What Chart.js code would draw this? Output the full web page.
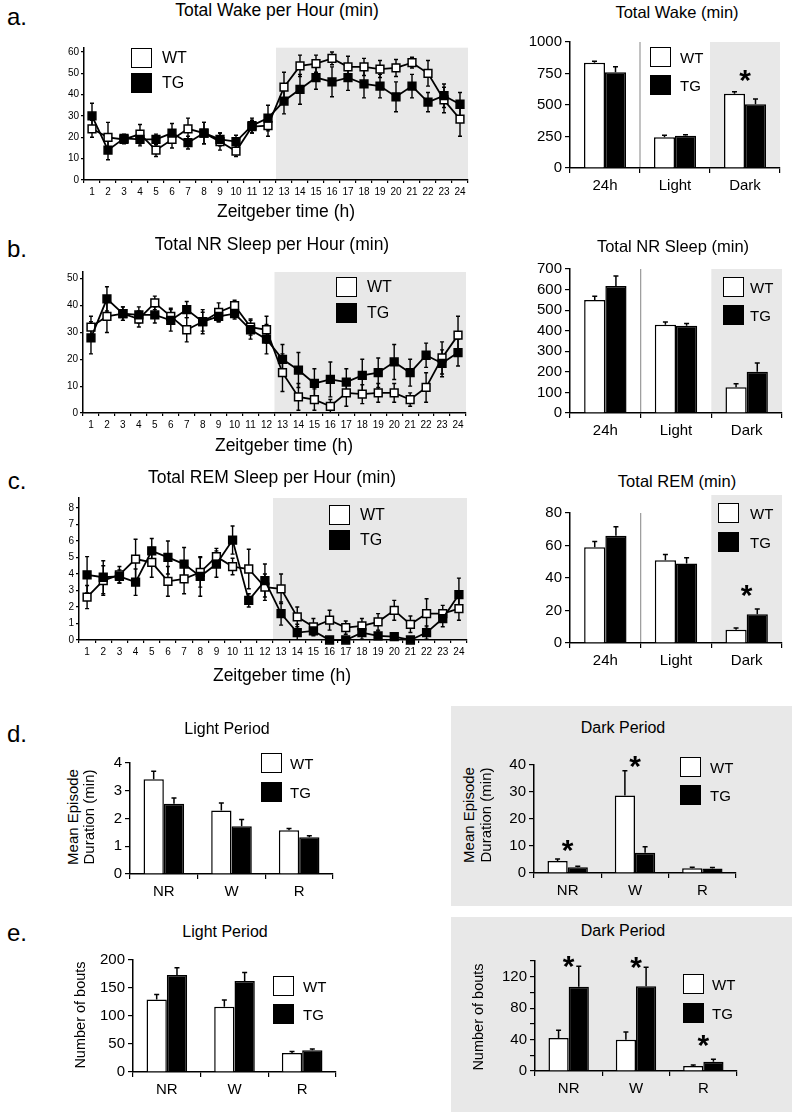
<!DOCTYPE html>
<html><head><meta charset="utf-8">
<script src="https://cdn.jsdelivr.net/npm/chart.js@4/dist/chart.umd.min.js"></script>
<style>
html,body{margin:0;padding:0;background:#fff;}
body{width:800px;height:1119px;position:relative;overflow:hidden;font-family:"Liberation Sans",Arial,Helvetica,sans-serif;color:#000;}
.t{position:absolute;white-space:nowrap;transform:translate(-50%,-50%);line-height:1;}
.lt{position:absolute;white-space:nowrap;transform:translateY(-50%);line-height:1;}
canvas{position:absolute;}
.box{position:absolute;border:1.5px solid #000;box-sizing:border-box;}
.bg{position:absolute;background:#e8e8e8;}
</style></head><body>
<script>
// ---------------- DATA ----------------
const hours = ['1','2','3','4','5','6','7','8','9','10','11','12','13','14','15','16','17','18','19','20','21','22','23','24'];
const groups = ['WT','TG'];

const wakeHourWT    = [24,20,19,21.5,14,19,24,22,18,13.5,25,25.5,43.5,53.5,54.5,57,53,53,52,52.5,55,50,37.5,28.5];
const wakeHourWTerr = [4,7,2,4.5,3,4,5,5,4,2.5,3,5,7,5,4,3,5,4,4,4,2.5,6,6,8];
const wakeHourTG    = [30,14,19.5,19,19,22,17.5,22,19,18,25.5,29,37,42.5,48,46,48,45,44,39,44,36.5,39.5,35.5];
const wakeHourTGerr = [6,4.5,2,3,2.5,4.5,3,5,3,3,3.5,6,6,7,5.5,7,6,6.5,5.5,7,5.5,4.5,5.5,5.5];

const nrHourWT    = [32,36,37,35,41,36,31,34,37.5,40,32,31,15,6,5,2.5,7.5,7,7.5,7.5,5,9.5,20.5,29];
const nrHourWTerr = [4,6,2.5,3,2.5,3,4.5,3.5,3.5,2,3,5,7,5,4,2.5,5,3.5,3.5,3.5,2.5,5.5,6,7];
const nrHourTG    = [28,42.5,37,36.5,36.5,34.5,38.5,34,36,37,31,27.5,20,16,11,12.5,11.5,14,15,19,15,21.5,18.5,22.5];
const nrHourTGerr = [6,4.5,2.5,3,3,4,3,4.5,2,2,3.5,5.5,5.5,6.5,5.5,6.5,5,6,5.5,6.5,5,4.5,5,5];

const remHourWT    = [2.6,3.6,3.95,4.9,4.7,3.55,3.7,4.1,5.05,4.45,4.3,3.2,3.1,1.4,0.8,1.2,0.75,0.85,1.1,1.8,0.95,1.6,1.6,1.9];
const remHourWTerr = [0.7,0.9,0.5,1.2,0.9,0.9,0.9,0.9,0.5,0.5,1.2,0.8,0.9,0.6,0.5,0.6,0.4,0.45,0.5,0.6,0.5,0.9,0.5,0.7];
const remHourTG    = [3.95,3.8,3.85,3.5,5.4,5.0,4.6,3.85,4.6,6.05,2.4,3.6,1.6,0.45,0.55,0,0,0.45,0.25,0.2,0,0.45,1.3,2.75];
const remHourTGerr = [1.1,1.0,0.4,0.8,0.75,1.0,1.0,1.2,0.8,0.85,0.4,1.0,0.7,0.5,0.3,0.2,0.2,0.4,0.3,0.2,0.2,0.4,0.5,1.0];

const periods = ['24h','Light','Dark'];
const wakeTotWT = [835,245,590],  wakeTotWTerr = [12,15,15];
const wakeTotTG = [760,255,505],  wakeTotTGerr = [43,8,43];
const wakeTotSig = [false,false,true];
const nrTotWT = [549,429,125],    nrTotWTerr = [19,13,17];
const nrTotTG = [617,424,201],    nrTotTGerr = [49,11,42];
const nrTotSig = [false,false,false];
const remTotWT = [59,51,8.2],     remTotWTerr = [3.5,3.5,1];
const remTotTG = [66,48.9,17.7],  remTotTGerr = [5.5,3.5,3.3];
const remTotSig = [false,false,true];

const states = ['NR','W','R'];
const durLightWT = [3.41,2.29,1.58], durLightWTerr = [0.29,0.27,0.06];
const durLightTG = [2.53,1.72,1.32], durLightTGerr = [0.21,0.24,0.06];
const durLightSig = [false,false,false];
const durDarkWT = [4.4,28.7,1.8],    durDarkWTerr = [0.8,9.2,0.3];
const durDarkTG = [2.1,7.5,1.7],     durDarkTGerr = [0.4,2.2,0.3];
const durDarkSig = [true,true,false];
const boutsLightWT = [129.6,116.4,34],  boutsLightWTerr = [9,12,2.4];
const boutsLightTG = [173,162.4,38.8],  boutsLightTGerr = [13,15.5,2.4];
const boutsLightSig = [false,false,false];
const boutsDarkWT = [42,39.9,6.4],      boutsDarkWTerr = [10,9.7,1.2];
const boutsDarkTG = [107.3,108,11.9],   boutsDarkTGerr = [26,24,3];
const boutsDarkSig = [true,true,true];

// ---------------- STYLE / HELPERS ----------------
const FONT = '"Liberation Sans", Arial, Helvetica, sans-serif';
const groupFill = ['#ffffff', '#000000'];
Chart.defaults.font.family = FONT;
Chart.defaults.color = '#000';
Chart.defaults.animation = false;

function errBars(chart, o) {
  const ctx = chart.ctx, ys = chart.scales.y;
  ctx.save();
  ctx.strokeStyle = '#000';
  ctx.lineWidth = o.errWidth || 1.5;
  const cap = o.cap || 2.5;
  chart.data.datasets.forEach((ds, di) => {
    if (!ds.errors) return;
    const meta = chart.getDatasetMeta(di);
    meta.data.forEach((el, i) => {
      const v = ds.data[i], e = ds.errors[i];
      const x = el.x;
      const yt = ys.getPixelForValue(v + e);
      const yb = o.twoSided ? ys.getPixelForValue(Math.max(ys.min, v - e)) : ys.getPixelForValue(v);
      ctx.beginPath();
      ctx.moveTo(x, yb); ctx.lineTo(x, yt);
      ctx.moveTo(x - cap, yt); ctx.lineTo(x + cap, yt);
      if (o.twoSided && v - e > ys.min) { ctx.moveTo(x - cap, yb); ctx.lineTo(x + cap, yb); }
      ctx.stroke();
    });
  });
  ctx.restore();
}
function stars(chart, o) {
  if (!o.sig) return;
  const ctx = chart.ctx, xs = chart.scales.x, ys = chart.scales.y;
  const fs = 30;
  ctx.save();
  ctx.fillStyle = '#000';
  ctx.font = 'bold ' + fs + 'px ' + FONT;
  ctx.textAlign = 'center';
  ctx.textBaseline = 'alphabetic';
  o.sig.forEach((s, i) => {
    if (!s) return;
    let top = Infinity;
    chart.data.datasets.forEach(ds => { top = Math.min(top, ys.getPixelForValue(ds.data[i] + ds.errors[i])); });
    const gap = Array.isArray(o.starGap) ? o.starGap[i] : (o.starGap || 14);
    const yc = top - gap;
    ctx.fillText('*', xs.getPixelForValue(i), yc + 0.58 * fs);
  });
  ctx.restore();
}
const panelPlugin = {
  id: 'panel',
  beforeDraw(chart, args, o) {
    const ctx = chart.ctx, ca = chart.chartArea, x = chart.scales.x;
    ctx.save();
    if (o.shadeFrom != null) {
      const xs = (x.getPixelForValue(o.shadeFrom - 1) + x.getPixelForValue(o.shadeFrom)) / 2;
      const ex = o.shadeExtra || 0;
      ctx.fillStyle = '#e8e8e8';
      ctx.fillRect(xs, ca.top - ex, ca.right - xs, ca.bottom - ca.top + ex);
    }
    if (o.divider != null) {
      const xd = (x.getPixelForValue(o.divider - 1) + x.getPixelForValue(o.divider)) / 2;
      ctx.strokeStyle = '#999';
      ctx.lineWidth = 1.2;
      ctx.beginPath(); ctx.moveTo(xd, ca.top); ctx.lineTo(xd, ca.bottom); ctx.stroke();
    }
    ctx.restore();
  },
  beforeDatasetsDraw(chart, args, o) { if (o.twoSided) errBars(chart, o); },
  afterDatasetsDraw(chart, args, o) { if (o.errors && !o.twoSided) errBars(chart, o); stars(chart, o); }
};
Chart.register(panelPlugin);

function makeChart(area, cfg) {
  const [x0, y0, x1, y1] = area;
  const left = Math.floor(x0) - 44, top = Math.floor(y0) - 18;
  const W = Math.ceil(x1) + 14 - left, H = Math.ceil(y1) + 36 - top;
  const yw = x0 - left, pt = y0 - top, pr = W - (x1 - left), xh = H - (y1 - top);
  const c = document.createElement('canvas');
  c.width = W; c.height = H;
  c.style.left = left + 'px'; c.style.top = top + 'px';
  c.style.width = W + 'px'; c.style.height = H + 'px';
  document.body.appendChild(c);
  const step = cfg.step;
  new Chart(c, {
    type: cfg.type,
    data: { labels: cfg.labels, datasets: cfg.datasets },
    options: {
      responsive: false, animation: false, devicePixelRatio: 1,
      layout: { padding: { left: 0, right: pr, top: pt, bottom: 0 } },
      plugins: { legend: { display: false }, tooltip: { enabled: false }, title: { display: false }, panel: cfg.panel },
      scales: {
        x: {
          type: 'category', offset: true,
          grid: { display: true, offset: true, drawOnChartArea: false, tickLength: cfg.xTick, color: '#000', lineWidth: 1.2 },
          border: { display: true, color: '#000', width: 1.5 },
          ticks: { color: '#000', font: { size: cfg.xFont, family: FONT }, padding: cfg.xPad, maxRotation: 0, autoSkip: false },
          afterFit(s) { s.height = xh; }
        },
        y: {
          type: 'linear', min: 0, max: cfg.max,
          grid: { display: true, drawOnChartArea: false, tickLength: cfg.yTick, color: '#000', lineWidth: 1.2 },
          border: { display: true, color: '#000', width: 1.5 },
          ticks: { color: '#000', stepSize: step, autoSkip: false, font: { size: cfg.yFont, family: FONT }, padding: cfg.yPad,
                   callback: cfg.yLabel || (v => String(v)) },
          afterBuildTicks(s) {
            const n = Math.floor(cfg.max / step + 1e-9);
            const t = [];
            for (let k = 0; k <= n; k++) t.push({ value: +(k * step).toFixed(6) });
            s.ticks = t;
          },
          afterFit(s) { s.width = yw; }
        }
      }
    }
  });
}
function lineSets(wt, wtErr, tg, tgErr) {
  const base = { borderColor: '#000', borderWidth: 1.8, pointStyle: 'rect', pointRadius: 5.5, pointBorderColor: '#000',
                 pointBorderWidth: 1.5, tension: 0, clip: false, fill: false };
  return [
    Object.assign({}, base, { label: groups[0], data: wt, errors: wtErr, pointBackgroundColor: groupFill[0], backgroundColor: groupFill[0], order: 1 }),
    Object.assign({}, base, { label: groups[1], data: tg, errors: tgErr, pointBackgroundColor: groupFill[1], backgroundColor: groupFill[1], order: 0 })
  ];
}
function barSets(wt, wtErr, tg, tgErr) {
  const base = { borderColor: '#000', borderWidth: 1.5, categoryPercentage: 0.6, barPercentage: 1.0, borderSkipped: 'bottom' };
  return [
    Object.assign({}, base, { label: groups[0], data: wt, errors: wtErr, backgroundColor: groupFill[0] }),
    Object.assign({}, base, { label: groups[1], data: tg, errors: tgErr, backgroundColor: groupFill[1] })
  ];
}
function addText(s, x, y, size, extra) {
  const d = document.createElement('div');
  d.className = 't'; d.textContent = s;
  d.style.left = x + 'px'; d.style.top = y + 'px'; d.style.fontSize = size + 'px';
  if (extra) d.style.transform = 'translate(-50%,-50%) ' + extra;
  document.body.appendChild(d);
}
function addLegend(bx, by1, by2, tx, size) {
  groups.forEach((g, i) => {
    const by = i ? by2 : by1;
    const b = document.createElement('div');
    b.className = 'box';
    b.style.left = bx + 'px'; b.style.top = by + 'px';
    b.style.width = '21px'; b.style.height = '20px';
    b.style.background = groupFill[i];
    document.body.appendChild(b);
    const t = document.createElement('div');
    t.className = 'lt'; t.textContent = g;
    t.style.left = tx + 'px'; t.style.top = (by + 10) + 'px'; t.style.fontSize = (size || 15) + 'px';
    document.body.appendChild(t);
  });
}
function addBg(x, y, w, h) {
  const d = document.createElement('div');
  d.className = 'bg';
  d.style.left = x + 'px'; d.style.top = y + 'px'; d.style.width = w + 'px'; d.style.height = h + 'px';
  document.body.appendChild(d);
}

// ---------------- BACKGROUND BOXES ----------------
addBg(451, 706, 341, 200);
addBg(451, 917, 341, 195);

// ---------------- LINE CHARTS ----------------
const lineCommon = { type: 'line', labels: hours, xTick: 3, xPad: 3, xFont: 10, yTick: 3, yPad: 2, yFont: 10 };
makeChart([84, 47.7, 468, 180], Object.assign({}, lineCommon, {
  datasets: lineSets(wakeHourWT, wakeHourWTerr, wakeHourTG, wakeHourTGerr), max: 62, step: 10,
  panel: { shadeFrom: 12, twoSided: true, cap: 2, errWidth: 1.4 } }));
makeChart([83, 272, 466, 413], Object.assign({}, lineCommon, {
  datasets: lineSets(nrHourWT, nrHourWTerr, nrHourTG, nrHourTGerr), max: 52.5, step: 10,
  panel: { shadeFrom: 12, twoSided: true, cap: 2, errWidth: 1.4 } }));
makeChart([79, 498, 467, 640], Object.assign({}, lineCommon, {
  datasets: lineSets(remHourWT, remHourWTerr, remHourTG, remHourTGerr), max: 8.6, step: 1,
  panel: { shadeFrom: 12, twoSided: true, cap: 2, errWidth: 1.4 } }));

// ---------------- RIGHT TOTAL BAR CHARTS ----------------
const barCommon = { type: 'bar', xTick: 5, xPad: 4, xFont: 15, yTick: 5, yPad: 3, yFont: 15 };
makeChart([570, 42, 780, 168], Object.assign({}, barCommon, {
  labels: periods, datasets: barSets(wakeTotWT, wakeTotWTerr, wakeTotTG, wakeTotTGerr), max: 1000, step: 250,
  panel: { shadeFrom: 2, divider: 1, errors: true, sig: wakeTotSig, starGap: 19 } }));
makeChart([570, 269, 782, 413], Object.assign({}, barCommon, {
  labels: periods, datasets: barSets(nrTotWT, nrTotWTerr, nrTotTG, nrTotTGerr), max: 700, step: 100,
  panel: { shadeFrom: 2, divider: 1, errors: true, sig: nrTotSig } }));
makeChart([570, 513, 782, 643], Object.assign({}, barCommon, {
  labels: periods, datasets: barSets(remTotWT, remTotWTerr, remTotTG, remTotTGerr), max: 80, step: 20,
  panel: { shadeFrom: 2, shadeExtra: 18, divider: 1, errors: true, sig: remTotSig, starGap: 21 } }));

// ---------------- D / E BAR CHARTS ----------------
makeChart([130, 763, 333, 874], Object.assign({}, barCommon, {
  labels: states, datasets: barSets(durLightWT, durLightWTerr, durLightTG, durLightTGerr), max: 4, step: 1,
  panel: { errors: true, sig: durLightSig } }));
makeChart([534, 765, 736, 873], Object.assign({}, barCommon, {
  labels: states, datasets: barSets(durDarkWT, durDarkWTerr, durDarkTG, durDarkTGerr), max: 40, step: 10,
  panel: { errors: true, sig: durDarkSig, starGap: [16, 12, 14] } }));
makeChart([133, 960, 336, 1072], Object.assign({}, barCommon, {
  labels: states, datasets: barSets(boutsLightWT, boutsLightWTerr, boutsLightTG, boutsLightTGerr), max: 200, step: 50,
  panel: { errors: true, sig: boutsLightSig } }));
makeChart([535, 961, 737, 1071], Object.assign({}, barCommon, {
  labels: states, datasets: barSets(boutsDarkWT, boutsDarkWTerr, boutsDarkTG, boutsDarkTGerr), max: 140, step: 20,
  yLabel: v => (v % 40 === 0 ? String(v) : ''),
  panel: { errors: true, sig: boutsDarkSig, starGap: [8, 8, 22] } }));

// ---------------- TEXT ----------------
addText('a.', 17, 17, 24);
addText('b.', 17, 249, 24);
addText('c.', 17, 481, 24);
addText('d.', 17, 734, 24);
addText('e.', 17, 933, 24);

addText('Total Wake per Hour (min)', 277, 11, 17.5);
addText('Total NR Sleep per Hour (min)', 272, 245, 17.5);
addText('Total REM Sleep per Hour (min)', 272, 478, 17.5);
addText('Zeitgeber time (h)', 286, 212, 17.5);
addText('Zeitgeber time (h)', 284, 446, 17.5);
addText('Zeitgeber time (h)', 282, 676, 17.5);

addText('Total Wake (min)', 677, 12, 16.5);
addText('Total NR Sleep (min)', 673, 246, 16.5);
addText('Total REM (min)', 677, 481, 16.5);

addText('Light Period', 227, 729, 16);
addText('Dark Period', 623, 728, 16);
addText('Light Period', 225, 932, 16);
addText('Dark Period', 623, 931, 16);

addText('Mean Episode', 72, 817, 15, 'rotate(-90deg)');
addText('Duration (min)', 88, 817, 15, 'rotate(-90deg)');
addText('Mean Episode', 468, 815, 15, 'rotate(-90deg)');
addText('Duration (min)', 485, 815, 15, 'rotate(-90deg)');
addText('Number of bouts', 80, 1015, 14.5, 'rotate(-90deg)');
addText('Number of bouts', 478, 1017, 14.5, 'rotate(-90deg)');

// ---------------- LEGENDS ----------------
addLegend(131, 48, 73, 162, 16);
addLegend(336, 277, 303, 367, 16);
addLegend(329, 505, 530, 360, 16);
addLegend(650, 47, 75, 680, 15);
addLegend(723, 277, 305, 750, 15);
addLegend(718, 503, 532, 750, 15);
addLegend(261, 753, 782, 290, 15);
addLegend(680, 757, 785, 710, 15);
addLegend(273, 976, 1004, 303, 15);
addLegend(683, 974, 1003, 712, 15);
</script>
</body></html>
